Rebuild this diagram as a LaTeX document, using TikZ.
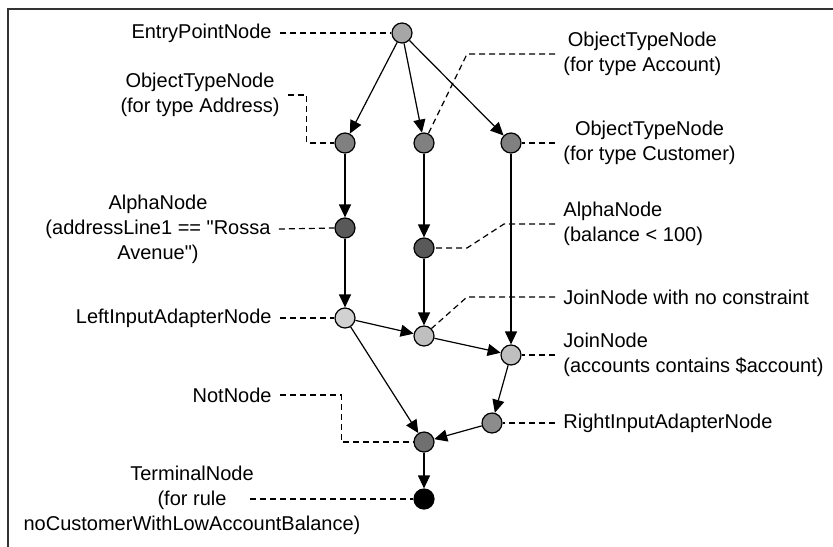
\documentclass[tikz,border=0pt]{standalone}
\usepackage{fontspec}
\setmainfont{Liberation Sans}
\usetikzlibrary{arrows.meta,calc}

\begin{document}
\begin{tikzpicture}[
  every node/.style={font=\fontsize{10}{12.5}\selectfont},
  rnode/.style={circle,draw,line width=0.6pt,minimum size=10pt,inner sep=0pt},
  lbl/.style  ={inner xsep=4pt,inner ysep=0pt,align=center},
  fl/.style   ={-{Triangle[length=6.5pt,width=6pt]},line width=0.6pt},
  lead/.style ={dash pattern=on 3pt off 2pt,line width=0.6pt},
  x=0.5pt,y=-0.5pt]

  \useasboundingbox (0,0) rectangle (833,546);
  \clip (0,0) rectangle (833,546);
  \draw[line width=1pt,black!80] (8,9) rectangle (900,600);

  % ===== RETE NODES =====
  \node[rnode,fill=black!35] (ep)        at (402, 33) {};
  \node[rnode,fill=black!50] (otnAddr)   at (345,143) {};
  \node[rnode,fill=black!50] (otnAcc)    at (424,143) {};
  \node[rnode,fill=black!50] (otnCust)   at (511,143) {};
  \node[rnode,fill=black!65] (alphaAddr) at (345,228) {};
  \node[rnode,fill=black!65] (alphaBal)  at (424,248) {};
  \node[rnode,fill=black!18] (lia)       at (345,318) {};
  \node[rnode,fill=black!25] (join1)     at (424,336) {};
  \node[rnode,fill=black!25] (join2)     at (511,355) {};
  \node[rnode,fill=black!45] (ria)       at (492,423) {};
  \node[rnode,fill=black!56] (notn)      at (424,442) {};
  \node[rnode,fill=black]    (term)      at (424,499) {};

  % ===== LABELS (left side) =====
  \node[lbl,anchor=east] (lEp)   at (280, 33) {EntryPointNode};
  \node[lbl]             (lAddr) at (200, 95) {ObjectTypeNode\\(for type Address)};
  \node[lbl]             (lAlphaAddr) at (158,229)
    {AlphaNode\\(addressLine1 == \textquotedbl Rossa\\Avenue\textquotedbl)};
  \node[lbl,anchor=east] (lLia)  at (280,318) {LeftInputAdapterNode};
  \node[lbl,anchor=east] (lNot)  at (280,395) {NotNode};
  \node[lbl]             (lTerm) at (192,500)
    {TerminalNode\\(for rule\\noCustomerWithLowAccountBalance)};
  \coordinate (termLead) at (250,499);

  % ===== LABELS (right side) =====
  \node[lbl,anchor=west] (lAcc)  at (555, 54) {ObjectTypeNode\\(for type Account)};
  \node[lbl,anchor=west] (lCust) at (555,143) {ObjectTypeNode\\(for type Customer)};
  \node[lbl,anchor=west,align=left] (lBal) at (555,224) {AlphaNode\\(balance < 100)};
  \node[lbl,anchor=west] (lJ1)   at (555,297) {JoinNode with no constraint};
  \node[lbl,anchor=west,align=left] (lJ2) at (555,355)
    {JoinNode\\(accounts contains \$account)};
  \node[lbl,anchor=west] (lRia)  at (555,423) {RightInputAdapterNode};

  % ===== DASHED LEADERS =====
  \draw[lead] (lEp.east) -- (ep.west);
  \draw[lead] (lAddr.east) -| ($(otnAddr.west)+(-28,0)$) -- (otnAddr.west);
  \draw[lead] (lAlphaAddr.east) -- (alphaAddr.west);
  \draw[lead] (lLia.east) -- (lia.west);
  \draw[lead] (lNot.east) -| ($(notn.west)+(-72,0)$) -- (notn.west);
  \draw[lead] (termLead) -- (term.west);
  \draw[lead] (lAcc.west) -- ++(-88,0) -- (otnAcc.65);
  \draw[lead] (lCust.west) -- (otnCust.east);
  \draw[lead] (lBal.west) -- ++(-51,0) -- ++(-37,24) -- (alphaBal.east);
  \draw[lead] (lJ1.west) -- ++(-88,0) -- (join1.45);
  \draw[lead] (lJ2.west) -- (join2.east);
  \draw[lead] (lRia.west) -- (ria.east);

  % ===== ARROWS =====
  \draw[fl] (ep) -- (otnAddr);
  \draw[fl] (ep) -- (otnAcc);
  \draw[fl] (ep) -- (otnCust);
  \draw[fl] (otnAddr) -- (alphaAddr);
  \draw[fl] (alphaAddr) -- (lia);
  \draw[fl] (otnAcc) -- (alphaBal);
  \draw[fl] (alphaBal) -- (join1);
  \draw[fl] (otnCust) -- (join2);
  \draw[fl] (lia) -- (join1);
  \draw[fl] (join1) -- (join2);
  \draw[fl] (lia) -- (notn);
  \draw[fl] (join2) -- (ria);
  \draw[fl] (ria) -- (notn);
  \draw[fl] (notn) -- (term);

\end{tikzpicture}
\end{document}
